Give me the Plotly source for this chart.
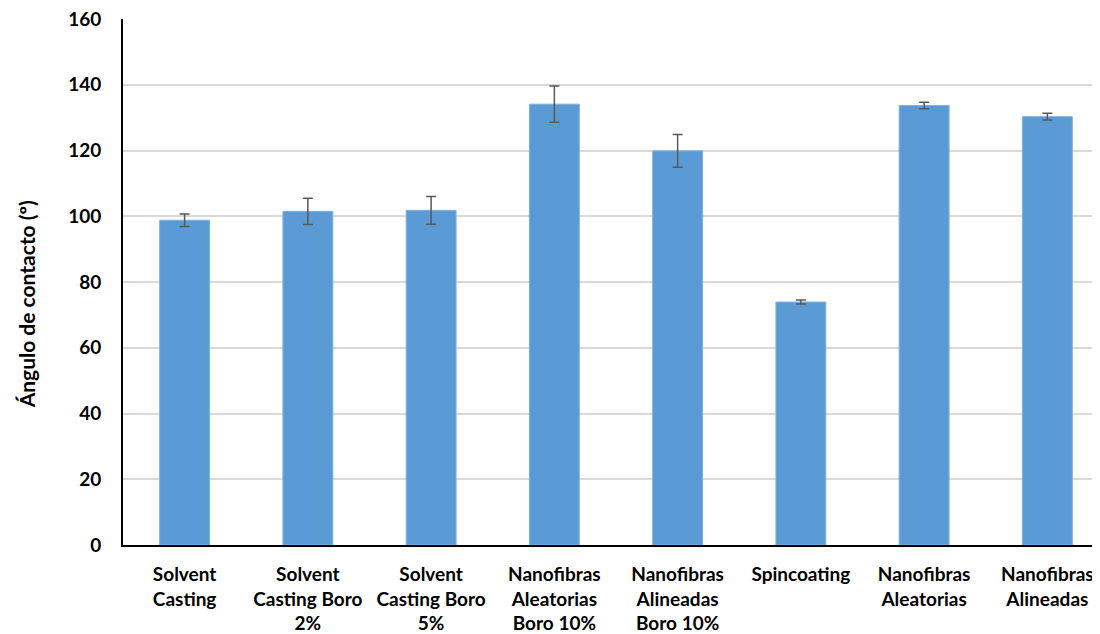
import plotly.graph_objects as go

categories = [
    "Solvent<br>Casting",
    "Solvent<br>Casting Boro<br>2%",
    "Solvent<br>Casting Boro<br>5%",
    "Nanofibras<br>Aleatorias<br>Boro 10%",
    "Nanofibras<br>Alineadas<br>Boro 10%",
    "Spincoating",
    "Nanofibras<br>Aleatorias",
    "Nanofibras<br>Alineadas",
]
values = [98.8, 101.5, 101.8, 134.1, 119.9, 73.9, 133.7, 130.3]
errors = [1.9, 4.0, 4.2, 5.5, 5.0, 0.6, 1.0, 1.0]
y_ticks = [0, 20, 40, 60, 80, 100, 120, 140, 160]
y_title = "Ángulo de contacto (º)"

font_family = "Lato, 'Open Sans', sans-serif"

fig = go.Figure(
    go.Bar(
        x=list(range(len(categories))),
        y=values,
        width=0.405,
        marker=dict(color="#5B9BD5", line=dict(color="#7FB2E0", width=1)),
        error_y=dict(type="data", array=errors, visible=True,
                     color="#595959", thickness=1.5, width=5),
    )
)

# page body has an 8px default margin, so the figure is sized to fit the window
fig.update_layout(
    width=1092, height=626,
    margin=dict(l=115, r=0, t=11, b=89),
    plot_bgcolor="white", paper_bgcolor="white",
    showlegend=False,
    font=dict(family=font_family, color="#000000"),
    annotations=[dict(
        text=f"<b>{y_title}</b>", textangle=-90,
        xref="paper", yref="paper", x=-0.099, y=0.458,
        xanchor="center", yanchor="middle", showarrow=False,
        font=dict(size=21, family=font_family, color="#000000"),
    )],
)
fig.update_xaxes(
    tickmode="array", tickvals=list(range(len(categories))),
    ticktext=[f"<b>{c}</b>" for c in categories],
    range=[-0.5, 7.427], automargin=False,
    showline=True, linecolor="black", linewidth=2,
    showgrid=False, ticks="", ticklabelstandoff=11,
    ticklabeloverflow="allow",
    tickfont=dict(size=19, family=font_family),
)
fig.update_yaxes(
    range=[0, 160], tickmode="array", tickvals=y_ticks,
    ticktext=[f"<b>{t}</b>" for t in y_ticks],
    showline=True, linecolor="black", linewidth=2, automargin=False,
    showgrid=True, gridcolor="#D9D9D9", gridwidth=1.5,
    zeroline=False, ticks="", ticklabelstandoff=16,
    ticklabeloverflow="allow",
    tickfont=dict(size=19, family=font_family),
)

fig.write_html("out.html")
